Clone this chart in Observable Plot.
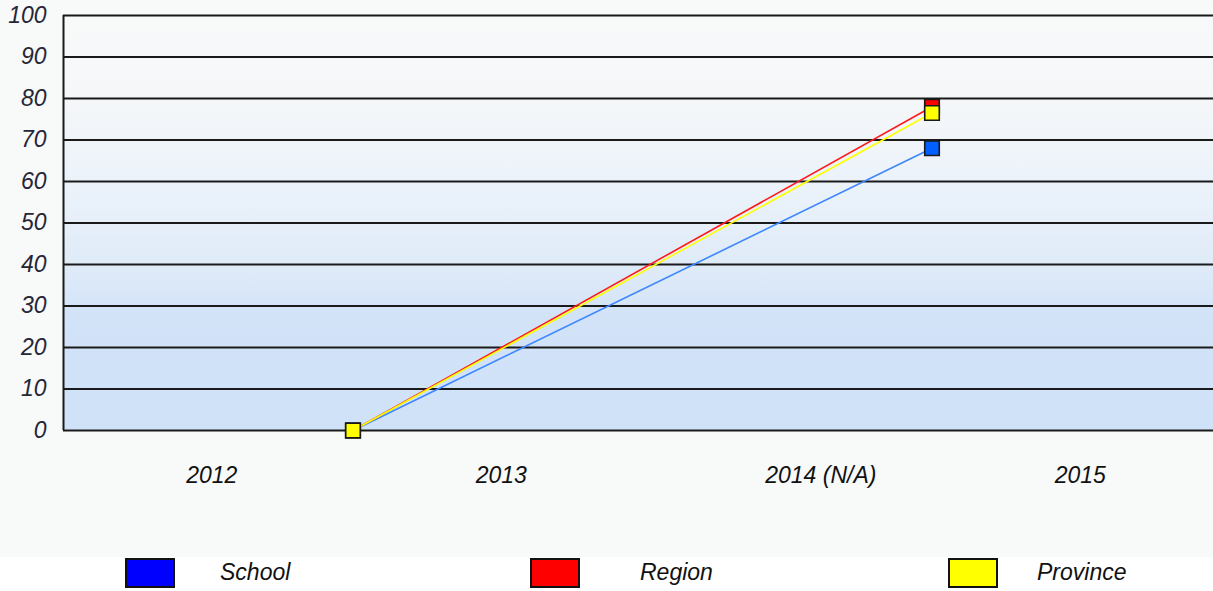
<!DOCTYPE html>
<html>
<head>
<meta charset="utf-8">
<script src="https://cdn.jsdelivr.net/npm/d3@7"></script>
<script src="https://cdn.jsdelivr.net/npm/@observablehq/plot@0.6"></script>
<style>
  html, body { margin: 0; padding: 0; background: #ffffff; }
  #chart { width: 1213px; height: 557px; background: #f8f9f9; }
  #legend { position: relative; width: 1213px; height: 34px; background: #ffffff;
    font-family: "Liberation Sans", Arial, sans-serif; font-style: italic; font-size: 23px; color: #111; }
  .sw { position: absolute; top: 1px; width: 46px; height: 26px; border: 2px solid #111; }
  .lb { position: absolute; top: 2px; }
</style>
</head>
<body>
<div id="chart"></div>
<div id="legend"></div>
<script>
// ---- data ----
const years = [2013, 2015];
const school = [0, 68];
const region = [0, 78];
const province = [0, 76.5];
const seriesNames = ["School", "Region", "Province"];
const lineColors = ["#3d86ff", "#ff1a1a", "#ffff00"];
const markerColors = ["#0060ff", "#ff0000", "#ffff00"];
const legendColors = ["#0000ff", "#ff0000", "#ffff00"];
const xTickPos = [2012.5, 2013.5, 2014.5, 2015.5];
const xTickLabels = ["2012", "2013", "2014 (N/A)", "2015"];
const yTicks = [0, 10, 20, 30, 40, 50, 60, 70, 80, 90, 100];

const seriesValues = [school, region, province];
const rows = seriesNames.flatMap((name, i) =>
  years.map((yr, j) => ({ series: name, year: yr, value: seriesValues[i][j], idx: i })));

const font = '"Liberation Sans", Arial, sans-serif';

const marks = [
  Plot.frame({ fill: "url(#bgGrad)", stroke: "none" }),
  Plot.ruleY(yTicks, { stroke: "#1a1a1a", strokeWidth: 2 }),
  Plot.ruleX([2012], { y1: 0, y2: 100, stroke: "#1a1a1a", strokeWidth: 2 }),
  ...seriesNames.map((name, i) =>
    Plot.line(rows.filter(d => d.series === name), {
      x: "year", y: "value", stroke: lineColors[i], strokeWidth: 1.6
    })),
  ...seriesNames.map((name, i) =>
    Plot.dot(rows.filter(d => d.series === name), {
      x: "year", y: "value", symbol: "square", r: 8.2,
      fill: markerColors[i], stroke: "#1a1a1a", strokeWidth: 1.6
    })),
  Plot.axisY(yTicks, {
    tickSize: 0, tickPadding: 17, fontSize: 23, fontStyle: "italic",
    fill: "#262636", label: null
  }),
  Plot.axisX(xTickPos, {
    tickSize: 0, tickPadding: 36, fontSize: 23, fontStyle: "italic",
    fill: "#111", label: null, textAnchor: "start", dx: -22,
    tickFormat: (d) => xTickLabels[xTickPos.indexOf(d)]
  })
];

const chart = Plot.plot({
  width: 1213,
  height: 557,
  marginLeft: 63,
  marginRight: -8,
  marginTop: 15,
  marginBottom: 127,
  style: { background: "transparent", fontFamily: font, overflow: "hidden" },
  x: { domain: [2012, 2016], axis: null },
  y: { domain: [0, 100], axis: null },
  marks
});

// gradient definition for the plot-area fill
const svg = d3.select(chart);
const defs = svg.insert("defs", ":first-child");
const grad = defs.append("linearGradient").attr("id", "bgGrad")
  .attr("x1", 0).attr("y1", 0).attr("x2", 0).attr("y2", 1);
[[0, "#f8f9f9"], [0.2, "#f5f7f9"], [0.45, "#e9f1fa"], [0.62, "#deeaf8"], [0.72, "#d2e3f8"], [1, "#d0e2f8"]]
  .forEach(([o, c]) => grad.append("stop").attr("offset", o).attr("stop-color", c));

document.getElementById("chart").appendChild(chart);

// legend
const swLeft = [125, 530, 948];
const lbLeft = [220, 640, 1037];
const legend = document.getElementById("legend");
seriesNames.forEach((name, i) => {
  const sw = document.createElement("div");
  sw.className = "sw";
  sw.style.left = swLeft[i] + "px";
  sw.style.background = legendColors[i];
  legend.appendChild(sw);
  const lb = document.createElement("div");
  lb.className = "lb";
  lb.style.left = lbLeft[i] + "px";
  lb.textContent = name;
  legend.appendChild(lb);
});
</script>
</body>
</html>
